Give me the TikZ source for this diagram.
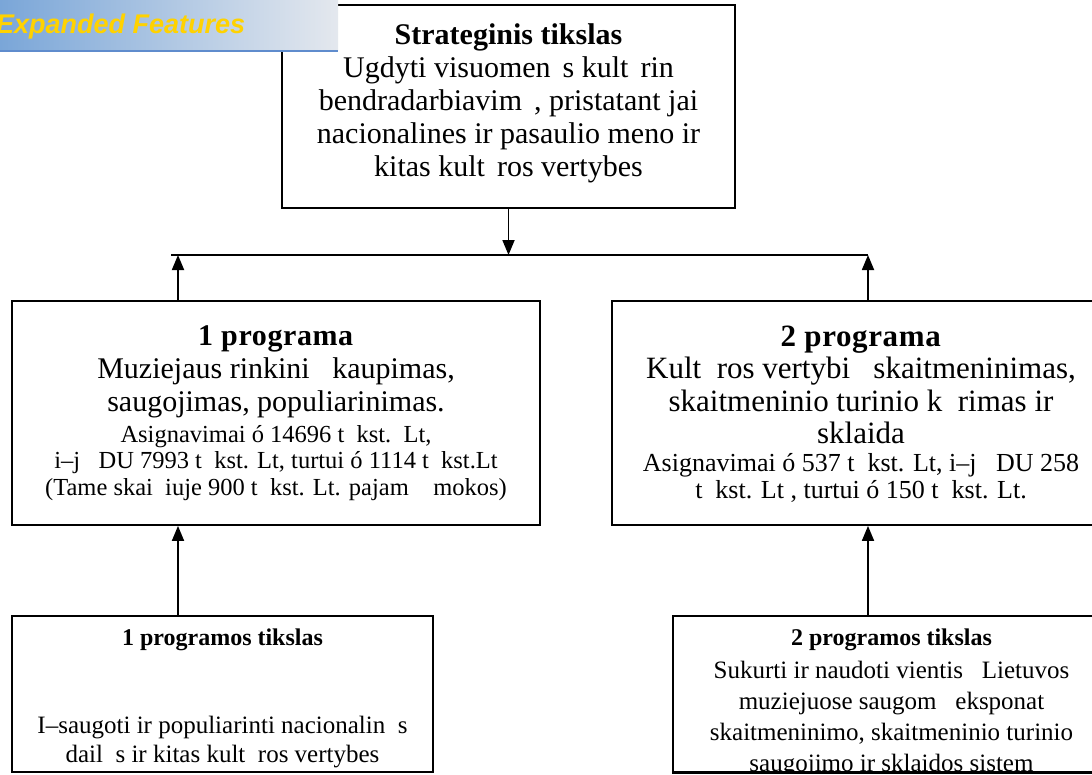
\documentclass[tikz,border=0pt]{standalone}
\usepackage{fontspec}
\setmainfont{Liberation Serif}
\newfontfamily\tabfont{Liberation Sans}
\usetikzlibrary{arrows.meta}
\newcommand\gp{\hspace{0.4em}}
\definecolor{tabL}{RGB}{122,166,216}
\definecolor{tabR}{RGB}{228,232,238}
\definecolor{tabline}{RGB}{95,140,205}
\definecolor{tabgold}{RGB}{255,210,0}
\begin{document}
\begin{tikzpicture}[x=1pt,y=-1pt,
 box/.style={draw=black, line width=1.8pt, fill=white, inner sep=0pt},
 conn/.style={line width=1.8pt},
 arr/.style={line width=1.8pt, -{Triangle[length=15pt,width=12pt]}},
 big/.style={align=center, font=\fontsize{30}{33}\selectfont, inner sep=0pt},
 small/.style={align=center, font=\fontsize{24.5}{26.5}\selectfont, inner sep=0pt},
 body/.style={align=center, font=\fontsize{25}{29.5}\selectfont, inner sep=0pt},
 head/.style={align=center, font=\bfseries\fontsize{24}{28}\selectfont, inner sep=0pt}]
\useasboundingbox (0,0) rectangle (1092,774);
\fill[white] (0,0) rectangle (1092,774);
\clip (0,0) rectangle (1092,774);

% boxes
\node[box, minimum width=453pt, minimum height=203pt] (top) at (508.5,106.5) {};
\node[box, minimum width=528pt, minimum height=224pt] (b1) at (276,413) {};
\node[box, minimum width=498pt, minimum height=224pt] (b2) at (861,413) {};
\node[box, minimum width=421pt, minimum height=156pt] (c1) at (222.5,694) {};
\node[box, minimum width=437pt, minimum height=156pt] (c2) at (891.5,694) {};

% connector points
\coordinate (hl) at (171,255);
\coordinate (hr) at (868,255);
\coordinate (aL) at (178,255);

\draw[arr] (top.south) -- (top.south |- hl);
\draw[conn] (hl) -- (hr);
\draw[arr] (b1.north -| aL) -- (aL);
\draw[arr] (b2.north -| hr) -- (hr);
\draw[arr] (c1.north -| aL) -- (b1.south -| aL);
\draw[arr] (c2.north -| hr) -- (b2.south -| hr);

% texts
\node[big] (ttop) at (508.5,103) {\textbf{Strateginis tikslas}\\Ugdyti visuomen\gp s kult\gp rin\\bendradarbiavim\gp , pristatant jai\\nacionalines ir pasaulio meno ir\\kitas kult\gp ros vertybes};

\node[big] (tb1) at (276,372) {\textbf{\addfontfeature{LetterSpace=2}1 programa}\\Muziejaus rinkini~~~kaupimas,\\saugojimas, populiarinimas.};
\node[small] (sb1) at (276,463) {Asignavimai ó 14696 t~~kst.~~Lt,\\i–j~~~DU 7993 t~~kst. Lt, turtui ó 1114 t~~kst.Lt\\(Tame skai~~iuje 900 t~~kst. Lt. pajam~~~~mokos)};

\node[big, font=\fontsize{31}{32.5}\selectfont] (tb2) at (861,385) {\textbf{\addfontfeature{LetterSpace=2}2 programa}\\Kult~~ros vertybi~~~skaitmeninimas,\\skaitmeninio turinio k~~rimas ir\\sklaida};
\node[small, font=\fontsize{26}{26.5}\selectfont] (sb2) at (861,478) {Asignavimai ó 537 t~~kst. Lt, i–j~~~DU 258\\t~~kst. Lt , turtui ó 150 t~~kst. Lt.};

\node[head] (hc1) at (222.5,640) {1 programos tikslas};
\node[body] (tc1) at (222.5,742) {I–saugoti ir populiarinti nacionalin~~s\\dail~~s ir kitas kult~~ros vertybes};

\node[head] (hc2) at (891.5,640) {2 programos tikslas};
\begin{scope}
\clip (674,617) rectangle (1110,771);
\node[body, font=\fontsize{25}{31}\selectfont] (tc2) at (891.5,719) {Sukurti ir naudoti vientis~~~Lietuvos\\muziejuose saugom~~~eksponat\\skaitmeninimo, skaitmeninio turinio\\saugojimo ir sklaidos sistem};
\end{scope}
\draw[line width=1.8pt] (c2.south west) -- (c2.south east);

% tab
\shade[left color=tabL, right color=tabR] (0,0) rectangle (338,50);
\draw[line width=2.5pt, tabline] (0,51) -- (338,51);
\node[font=\tabfont\bfseries\itshape\fontsize{27}{30}\selectfont, text=tabgold, anchor=base west, inner sep=0pt] (tab) at (-4,33) {Expanded Features};
\end{tikzpicture}
\end{document}
